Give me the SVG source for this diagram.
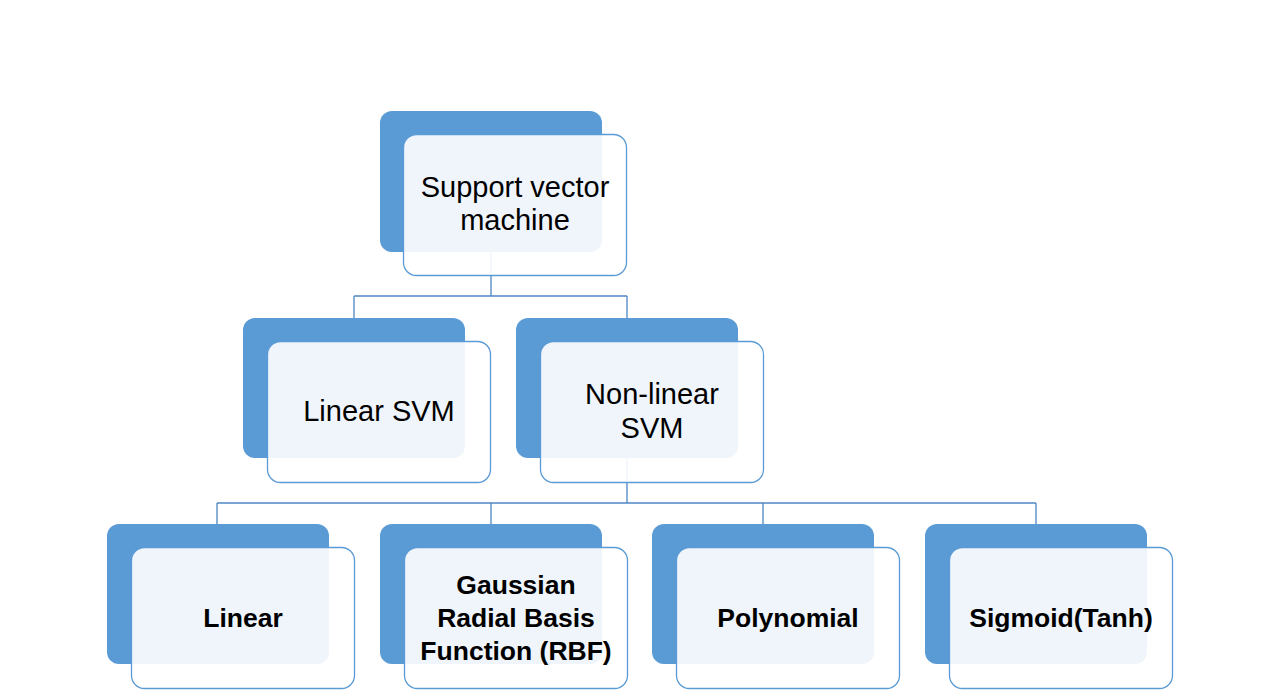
<svg xmlns="http://www.w3.org/2000/svg" width="1279" height="690" viewBox="0 0 1279 690">
<style>
.back{fill:#5b9bd5;}
.front{fill:#ffffff;fill-opacity:0.9;stroke:#5b9bd5;stroke-width:1.3;}
.conn{fill:none;stroke:#4f87c4;stroke-width:1.3;}
.t{font-family:"Liberation Sans",Arial,sans-serif;font-size:29px;fill:#000;text-anchor:middle;}
.b{font-family:"Liberation Sans",Arial,sans-serif;font-size:26.5px;font-weight:bold;fill:#000;text-anchor:middle;}
</style>
<rect width="1279" height="690" fill="#ffffff"/>
<g id="connectors">
<path class="conn" d="M491,252 V296 M354,296 H627 M354,296 V318 M627,296 V318 M627,458 V503 M217,503 H1036 M217,503 V524 M491,503 V524 M763,503 V524 M1036,503 V524"/>
</g>
<g id="node-svm">
<rect class="back" x="380" y="111" width="222" height="141" rx="12"/>
<rect class="front" x="403.5" y="134.5" width="223" height="141" rx="13"/>
<text class="t" x="515" y="197">Support vector</text>
<text class="t" x="515" y="230">machine</text>
</g>
<g id="node-linear-svm">
<rect class="back" x="243" y="318" width="222" height="140" rx="12"/>
<rect class="front" x="267.5" y="341.5" width="223" height="141" rx="13"/>
<text class="t" x="379" y="421">Linear SVM</text>
</g>
<g id="node-nonlinear-svm">
<rect class="back" x="516" y="318" width="222" height="140" rx="12"/>
<rect class="front" x="540.5" y="341.5" width="223" height="141" rx="13"/>
<text class="t" x="652" y="404">Non-linear</text>
<text class="t" x="652" y="438">SVM</text>
</g>
<g id="node-linear">
<rect class="back" x="107" y="524" width="222" height="140" rx="12"/>
<rect class="front" x="131.5" y="547.5" width="223" height="141" rx="13"/>
<text class="b" x="243" y="627">Linear</text>
</g>
<g id="node-rbf">
<rect class="back" x="380" y="524" width="222" height="140" rx="12"/>
<rect class="front" x="404.5" y="547.5" width="223" height="141" rx="13"/>
<text class="b" x="516" y="594">Gaussian</text>
<text class="b" x="516" y="627">Radial Basis</text>
<text class="b" x="516" y="660">Function (RBF)</text>
</g>
<g id="node-polynomial">
<rect class="back" x="652" y="524" width="222" height="140" rx="12"/>
<rect class="front" x="676.5" y="547.5" width="223" height="141" rx="13"/>
<text class="b" x="788" y="627">Polynomial</text>
</g>
<g id="node-sigmoid">
<rect class="back" x="925" y="524" width="222" height="140" rx="12"/>
<rect class="front" x="949.5" y="547.5" width="223" height="141" rx="13"/>
<text class="b" x="1061" y="627">Sigmoid(Tanh)</text>
</g>
</svg>
